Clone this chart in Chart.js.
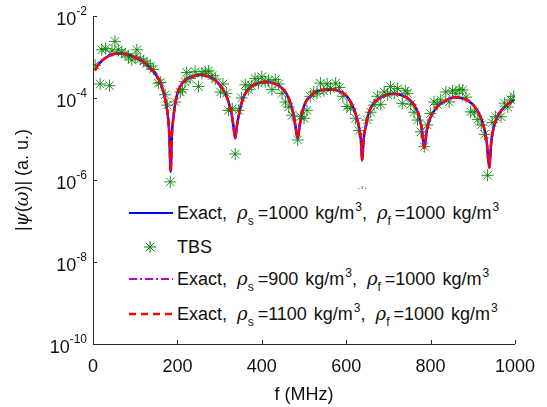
<!DOCTYPE html>
<html>
<head>
<meta charset="utf-8">
<script src="https://cdn.jsdelivr.net/npm/chart.js@4.4.1/dist/chart.umd.min.js"></script>
<style>
  html, body { margin: 0; padding: 0; background: #fff; }
  #wrap { position: relative; width: 547px; height: 407px; }
  #legend {
    position: absolute; left: 124px; top: 189px; width: 415px; height: 147px;
    background: #fff; font-family: "Liberation Sans", Arial, sans-serif; font-size: 18px; color: #111;
    word-spacing: 2px;
  }
  .row { position: absolute; left: 0; height: 22px; line-height: 22px; white-space: nowrap; }
  .row svg { position: absolute; left: 5px; top: 6px; }
  .row span.t { position: absolute; left: 53px; top: 0; }
  sub, sup { font-size: 12px; line-height: 0; position: relative; vertical-align: baseline; }
  sub { top: 6px; margin-right: 4px; }
  sup { top: -8px; margin-left: 1px; }
  i { font-family: "DejaVu Serif", serif; margin-left: 3px; }
</style>
</head>
<body>
<div id="wrap">
  <canvas id="chart" width="547" height="407"></canvas>
  <div id="legend">
    <div class="row" style="top:13px">
      <svg width="44" height="10"><line x1="0" y1="5" x2="44" y2="5" stroke="#0000ff" stroke-width="2"/></svg>
      <span class="t">Exact, <i>ρ</i><sub>s</sub>=1000 kg/m<sup>3</sup>, <i>ρ</i><sub>f</sub>=1000 kg/m<sup>3</sup></span>
    </div>
    <div class="row" style="top:47px">
      <svg width="44" height="12" style="top:5px"><g stroke="#008000" stroke-width="1"><line x1="21" y1="0" x2="21" y2="12"/><line x1="15" y1="6" x2="27" y2="6"/><line x1="16.8" y1="1.8" x2="25.2" y2="10.2"/><line x1="16.8" y1="10.2" x2="25.2" y2="1.8"/></g></svg>
      <span class="t">TBS</span>
    </div>
    <div class="row" style="top:79px">
      <svg width="44" height="10"><line x1="0" y1="5" x2="44" y2="5" stroke="#bf00bf" stroke-width="2" stroke-dasharray="8 3 2 3"/></svg>
      <span class="t">Exact, <i>ρ</i><sub>s</sub>=900 kg/m<sup>3</sup>, <i>ρ</i><sub>f</sub>=1000 kg/m<sup>3</sup></span>
    </div>
    <div class="row" style="top:114px">
      <svg width="44" height="10"><line x1="0" y1="5" x2="44" y2="5" stroke="#ff0000" stroke-width="2.5" stroke-dasharray="7 5"/></svg>
      <span class="t">Exact, <i>ρ</i><sub>s</sub>=1100 kg/m<sup>3</sup>, <i>ρ</i><sub>f</sub>=1000 kg/m<sup>3</sup></span>
    </div>
  </div>
</div>
<script>
// frequencies (MHz) for the exact curves
const exactFreq = [5, 15, 30, 45, 60, 75, 90, 105, 120, 135, 150, 160, 168, 174, 178, 181, 184, 187, 190, 195,
  200, 210, 222, 238, 255, 272, 288, 302, 314, 322, 329, 333, 337, 341, 346, 352, 362, 375, 392, 410,
  428, 445, 458, 468, 475, 480, 485, 490, 496, 504, 515, 530, 548, 565, 582, 598, 612, 622, 630, 635,
  638, 641, 646, 654, 665, 680, 697, 713, 730, 748, 762, 772, 779, 785, 791, 798, 808, 820, 835, 855,
  872, 890, 905, 917, 926, 933, 939, 944, 950, 960, 975, 990, 998];

// |psi| for rho_s = 1000 kg/m3
const exact1000 = [4.8e-4, 7.0e-4, 9.6e-4, 1.15e-3, 1.22e-3, 1.18e-3, 1.08e-3, 9.2e-4, 7.6e-4, 5.4e-4,
  3.6e-4, 2.3e-4, 1.3e-4, 6.5e-5, 3.2e-5, 1.2e-5, 1.6e-6, 1.3e-5, 3.0e-5, 7.5e-5,
  1.3e-4, 2.2e-4, 2.9e-4, 3.4e-4, 3.65e-4, 3.4e-4, 2.8e-4, 2.0e-4, 1.25e-4, 7.5e-5,
  3.8e-5, 2.0e-5, 1.05e-5, 2.1e-5, 4.0e-5, 7.5e-5, 1.35e-4, 1.9e-4, 2.3e-4, 2.45e-4,
  2.3e-4, 1.85e-4, 1.3e-4, 7.5e-5, 4.0e-5, 2.0e-5, 1.05e-5, 2.2e-5, 4.5e-5, 8.0e-5,
  1.1e-4, 1.45e-4, 1.6e-4, 1.62e-4, 1.5e-4, 1.2e-4, 7.5e-5, 4.2e-5, 2.0e-5, 9e-6,
  3.0e-6, 9e-6, 2.0e-5, 4.5e-5, 7.5e-5, 1.0e-4, 1.2e-4, 1.27e-4, 1.18e-4, 9.5e-5,
  6.5e-5, 3.8e-5, 1.8e-5, 6e-6, 1.6e-5, 3.0e-5, 4.8e-5, 6.8e-5, 8.5e-5, 1.05e-4,
  1.0e-4, 8.5e-5, 6.0e-5, 3.7e-5, 2.0e-5, 8.5e-6, 2.0e-6, 9e-6, 2.0e-5, 3.8e-5,
  6.0e-5, 8.0e-5, 9.0e-5];

// rho_s = 900 and 1100 overlap the 1000 curve at this scale
const exact900 = exact1000;
const exact1100 = exact1000;

// TBS samples
const tbsFreq = [5, 17, 21, 30, 39, 45, 52, 60, 68, 76, 84, 92, 100, 104, 112, 120, 128, 136, 143, 155,
  160, 171, 176, 183, 195, 207, 212, 218, 222, 230, 242, 250, 258, 266, 274, 282, 290, 302, 308, 316,
  321, 330, 337, 345, 352, 361, 368, 376, 384, 392, 400, 408, 416, 424, 432, 440, 448, 456, 464, 472,
  485, 492, 500, 507, 515, 523, 531, 539, 547, 555, 563, 575, 584, 592, 602, 610, 622, 630, 638, 650,
  658, 666, 674, 682, 690, 698, 705, 714, 722, 733, 740, 745, 753, 761, 769, 777, 785, 792, 800, 808,
  816, 824, 836, 844, 852, 860, 868, 876, 884, 895, 904, 912, 920, 928, 935, 946, 954, 967, 975, 983, 990, 997];
const tbsValues = [6.3e-4, 2.2e-4, 1.5e-3, 1.6e-3, 2.0e-4, 1.4e-3, 2.4e-3, 1.5e-3, 1.3e-3, 1.2e-3,
  1.0e-3, 8.5e-4, 1.0e-3, 1.5e-3, 9e-4, 8e-4, 7e-4, 6e-4, 5e-4, 2.3e-4,
  2.4e-4, 1.2e-4, 6.7e-5, 9e-7, 8e-5, 1.4e-4, 1.6e-4, 2.5e-4, 4.2e-4, 3.0e-4,
  4.4e-4, 1.9e-4, 4.0e-4, 4.4e-4, 4.6e-4, 3.5e-4, 2.9e-4, 1.4e-4, 2.2e-4, 1.3e-4,
  5.0e-5, 5.5e-5, 4.3e-6, 5.0e-5, 1.0e-4, 2.1e-4, 1.6e-4, 2.0e-4, 3.0e-4, 2.3e-4,
  3.3e-4, 2.5e-4, 2.7e-4, 1.6e-4, 2.8e-4, 2.2e-4, 1.3e-4, 8e-5, 6e-5, 3.8e-5,
  9.5e-6, 3.5e-5, 3.2e-5, 5.0e-5, 1.1e-4, 1.4e-4, 1.3e-4, 2.3e-4, 1.5e-4, 2.2e-4,
  1.7e-4, 2.3e-4, 1.8e-4, 1.1e-4, 6.2e-5, 5.5e-5, 3.2e-5, 1.6e-5, 5.1e-7, 2.9e-5,
  4.5e-5, 6.7e-5, 1.1e-4, 7e-5, 1.4e-4, 1.2e-4, 1.9e-4, 1.3e-4, 1.7e-4, 7.4e-5,
  1.5e-4, 1.3e-4, 7e-5, 4.5e-5, 2.9e-5, 1.5e-5, 6.5e-6, 2.2e-5, 4.2e-5, 8e-5,
  7e-5, 9e-5, 1.4e-4, 8e-5, 1.5e-4, 1.3e-4, 1.6e-4, 1.57e-4, 1.05e-4, 4.6e-5,
  4.5e-5, 3e-5, 2.2e-5, 1.3e-5, 1.3e-6, 2.5e-5, 3.5e-5, 3.5e-5, 7.5e-5, 6e-5, 9e-5, 1.1e-4];

const xTicks = [0, 200, 400, 600, 800, 1000];
const yTicks = [1e-10, 1e-8, 1e-6, 1e-4, 1e-2];
const yTickExp = ["-10", "-8", "-6", "-4", "-2"];

const axisColor = "#262626";
const fontFamily = "'Liberation Sans', Arial, sans-serif";

function toPoints(xs, ys) {
  return xs.map((x, i) => ({ x: x, y: ys[i] }));
}

// inward ticks, 10^n labels and the y title, MATLAB style
const axisDecor = {
  id: "axisDecor",
  afterDraw(chart) {
    const ctx = chart.ctx;
    const xs = chart.scales.x, ys = chart.scales.y;
    const area = chart.chartArea;
    ctx.save();
    ctx.strokeStyle = axisColor;
    ctx.lineWidth = 1;
    ctx.beginPath();
    xTicks.forEach(v => {
      const px = Math.round(xs.getPixelForValue(v)) + 0.5;
      ctx.moveTo(px, area.bottom);
      ctx.lineTo(px, area.bottom - 4);
    });
    yTicks.forEach(v => {
      const py = Math.round(ys.getPixelForValue(v)) + 0.5;
      ctx.moveTo(area.left, py);
      ctx.lineTo(area.left + 4, py);
    });
    ctx.stroke();

    ctx.fillStyle = "#111";
    ctx.textBaseline = "alphabetic";
    yTicks.forEach((v, i) => {
      const py = ys.getPixelForValue(v);
      ctx.font = "12px " + fontFamily;
      const ew = ctx.measureText(yTickExp[i]).width;
      const right = area.left - 6;
      ctx.textAlign = "left";
      ctx.fillText(yTickExp[i], right - ew, py - 1);
      ctx.font = "18px " + fontFamily;
      ctx.textAlign = "right";
      ctx.fillText("10", right - ew, py + 9);
    });

    // y title with italic greek letters
    const parts = [["|", false], ["ψ", true], ["(", false], ["ω", true], [")| (a. u.)", false]];
    const fontOf = it => it ? "italic 18px 'DejaVu Serif', serif" : "18px " + fontFamily;
    let total = 0;
    parts.forEach(p => { ctx.font = fontOf(p[1]); total += ctx.measureText(p[0]).width; });
    ctx.translate(28, (area.top + area.bottom) / 2);
    ctx.rotate(-Math.PI / 2);
    ctx.textAlign = "left";
    let cx = -total / 2;
    parts.forEach(p => {
      ctx.font = fontOf(p[1]);
      ctx.fillText(p[0], cx, 0);
      cx += ctx.measureText(p[0]).width;
    });
    ctx.restore();
  }
};

new Chart(document.getElementById("chart").getContext("2d"), {
  type: "line",
  data: {
    datasets: [
      {
        label: "Exact, rho_s=1100",
        data: toPoints(exactFreq, exact1100),
        borderColor: "#ff0000",
        borderWidth: 2.5,
        borderDash: [7, 4],
        pointRadius: 0,
        cubicInterpolationMode: "monotone",
        order: 0
      },
      {
        label: "Exact, rho_s=900",
        data: toPoints(exactFreq, exact900),
        borderColor: "#bf00bf",
        borderWidth: 2,
        borderDash: [8, 3, 2, 3],
        pointRadius: 0,
        cubicInterpolationMode: "monotone",
        order: 1
      },
      {
        label: "TBS",
        data: toPoints(tbsFreq, tbsValues),
        showLine: false,
        pointStyle: "star",
        pointRadius: 6,
        borderColor: "rgba(0,128,0,0.85)",
        borderWidth: 1,
        order: 2
      },
      {
        label: "Exact, rho_s=1000",
        data: toPoints(exactFreq, exact1000),
        borderColor: "#0000ff",
        borderWidth: 2.5,
        pointRadius: 0,
        cubicInterpolationMode: "monotone",
        order: 3
      }
    ]
  },
  options: {
    responsive: false,
    animation: false,
    layout: { padding: { left: 0, right: 32, top: 16, bottom: 0 } },
    plugins: { legend: { display: false }, tooltip: { enabled: false } },
    scales: {
      x: {
        type: "linear",
        min: 0,
        max: 1000,
        afterBuildTicks: s => { s.ticks = xTicks.map(v => ({ value: v })); },
        afterFit: s => { s.height = 63; },
        grid: { drawOnChartArea: false, drawTicks: false },
        border: { color: axisColor, width: 1 },
        ticks: { padding: 12, color: "#111", font: { family: fontFamily, size: 18 }, callback: v => String(v) },
        title: {
          display: true, text: "f (MHz)", color: "#111",
          font: { family: fontFamily, size: 18 }, padding: { top: 0, bottom: 1 }
        }
      },
      y: {
        type: "logarithmic",
        min: 1e-10,
        max: 1e-2,
        afterBuildTicks: s => { s.ticks = yTicks.map(v => ({ value: v })); },
        afterFit: s => { s.width = 93; },
        grid: { drawOnChartArea: false, drawTicks: false },
        border: { color: axisColor, width: 1 },
        ticks: { display: false }
      }
    }
  },
  plugins: [axisDecor]
});
</script>
</body>
</html>
